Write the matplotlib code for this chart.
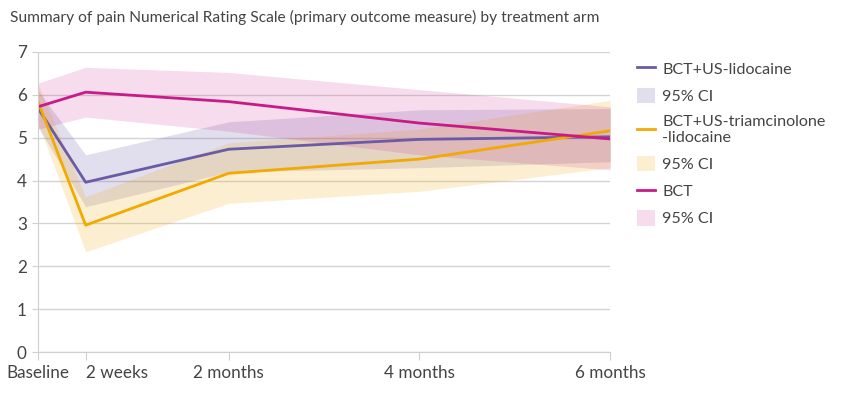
import matplotlib.pyplot as plt
from matplotlib.lines import Line2D
from matplotlib.patches import Patch

plt.rcParams['font.family'] = ['Lato', 'DejaVu Sans']

# time points in months
months = [0, 0.5, 2, 4, 6]
tick_labels = ['Baseline', '2 weeks', '2 months', '4 months', '6 months']

lido = [5.69, 3.96, 4.73, 4.96, 5.02]
lido_lo = [5.25, 3.39, 4.20, 4.30, 4.44]
lido_hi = [6.10, 4.60, 5.37, 5.65, 5.68]

triam = [5.84, 2.96, 4.17, 4.50, 5.16]
triam_lo = [5.35, 2.34, 3.47, 3.75, 4.30]
triam_hi = [6.25, 3.62, 4.88, 5.20, 5.87]

bct = [5.72, 6.06, 5.84, 5.34, 4.97]
bct_lo = [5.20, 5.48, 5.15, 4.60, 4.25]
bct_hi = [6.27, 6.64, 6.52, 6.12, 5.72]

c_lido, c_triam, c_bct = '#6b5aa6', '#f2a900', '#c81a88'

fig = plt.figure(figsize=(8.44, 3.93), dpi=100)
ax = fig.add_axes([0.045, 0.104, 0.678, 0.764])

ax.fill_between(months, lido_lo, lido_hi, color=c_lido, alpha=0.2, lw=0)
ax.fill_between(months, triam_lo, triam_hi, color=c_triam, alpha=0.18, lw=0)
ax.fill_between(months, bct_lo, bct_hi, color=c_bct, alpha=0.15, lw=0)
ax.plot(months, lido, color=c_lido, lw=2)
ax.plot(months, triam, color=c_triam, lw=2)
ax.plot(months, bct, color=c_bct, lw=2)

ax.set_xlim(0, 6)
ax.set_ylim(0, 7)
ax.set_xticks(months)
ax.set_xticklabels(tick_labels)
ax.get_xticklabels()[1].set_ha('left')
ax.set_yticks(range(0, 8))
ax.grid(axis='y', color='#d4d4d4', lw=1)
ax.set_axisbelow(True)
for s in ['top', 'right']:
    ax.spines[s].set_visible(False)
for s in ['left', 'bottom']:
    ax.spines[s].set_color('#cfcfcf')
ax.tick_params(colors='#cfcfcf', labelcolor='#444444', labelsize=12.3, length=6)
ax.tick_params(axis='y', length=4, pad=4)

fig.text(0.012, 0.955, 'Summary of pain Numerical Rating Scale (primary outcome measure) by treatment arm',
         fontsize=11.2, color='#444444', va='center')

handles = [
    Line2D([], [], color=c_lido, lw=2),
    Patch(color=c_lido, alpha=0.2, lw=0),
    Line2D([], [], color=c_triam, lw=2),
    Patch(color=c_triam, alpha=0.18, lw=0),
    Line2D([], [], color=c_bct, lw=2),
    Patch(color=c_bct, alpha=0.15, lw=0),
]
labels = ['BCT+US-lidocaine', '95% CI', 'BCT+US-triamcinolone\n-lidocaine', '95% CI', 'BCT', '95% CI']
ax.legend(handles, labels, loc='upper left', bbox_to_anchor=(1.022, 1.02), frameon=False,
          fontsize=11.6, labelcolor='#444444', handlelength=1.1, handleheight=1.1,
          handletextpad=0.45, labelspacing=0.68)

fig.savefig('out.png', dpi=100)
